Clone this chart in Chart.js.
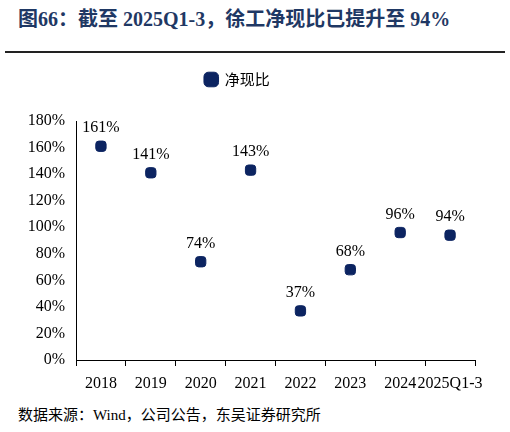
<!DOCTYPE html>
<html><head><meta charset="utf-8">
<script src="https://cdn.jsdelivr.net/npm/chart.js@4"></script>
<style>
body{margin:0;width:510px;height:432px;background:#fff;position:relative;overflow:hidden}
#t{position:absolute;left:18px;top:3px;font:bold 20px "Liberation Serif","Noto Sans CJK SC";color:#1f3864;white-space:nowrap}
#ln{position:absolute;left:5px;top:51px;width:500px;height:2px;background:#222}
#c{position:absolute;left:0;top:60px}
#s{position:absolute;left:18px;top:403px;font:15px "Liberation Serif","Noto Sans CJK SC";color:#000;white-space:nowrap}
</style></head><body>
<div id="t">图66：截至 2025Q1-3，徐工净现比已提升至 94%</div>
<div id="ln"></div>
<canvas id="c" width="510" height="342" style="width:510px;height:342px"></canvas>
<div id="s">数据来源：Wind，公司公告，东吴证券研究所</div>
<script>
const categories=["2018","2019","2020","2021","2022","2023","2024","2025Q1-3"];
const values=[161,141,74,143,37,68,96,94];
const seriesName="净现比";
const color="#0c2461";
const labelPlugin={id:"lbl",beforeInit(ch){const f=ch.legend.fit;ch.legend.fit=function(){f.call(this);this.height+=24;};},afterDatasetsDraw(ch){const c=ch.ctx;const m=ch.getDatasetMeta(0);c.save();c.font='16px "Liberation Serif"';c.fillStyle="#000";c.textAlign="center";c.textBaseline="bottom";m.data.forEach((p,i)=>{c.fillText(values[i]+"%",p.x,p.y-10);});c.restore();}};
new Chart(document.getElementById("c"),{type:"line",data:{labels:categories,datasets:[{label:seriesName,data:values,showLine:false,pointStyle:"rectRounded",pointRadius:6,pointHoverRadius:6,backgroundColor:color,borderColor:color}]},
options:{responsive:false,animation:false,layout:{padding:{left:0,right:35,top:2,bottom:0}},
plugins:{tooltip:{enabled:false},legend:{labels:{usePointStyle:true,pointStyle:"rectRounded",boxWidth:12,boxHeight:12,color:"#000",font:{family:'"Noto Sans CJK SC"',size:15},padding:10}}},
scales:{x:{offset:true,afterFit:s=>{s.height=42;},grid:{display:true,drawOnChartArea:false,offset:true,color:"#000",tickLength:6},border:{color:"#000"},ticks:{maxRotation:0,autoSkip:false,color:"#000",padding:8,font:{family:'"Liberation Serif"',size:16}}},
y:{min:0,max:180,afterFit:s=>{s.width=76;},grid:{display:false},border:{color:"#000"},ticks:{stepSize:20,color:"#000",font:{family:'"Liberation Serif"',size:16},callback:v=>v+"%"}}}},
plugins:[labelPlugin]});
</script></body></html>
